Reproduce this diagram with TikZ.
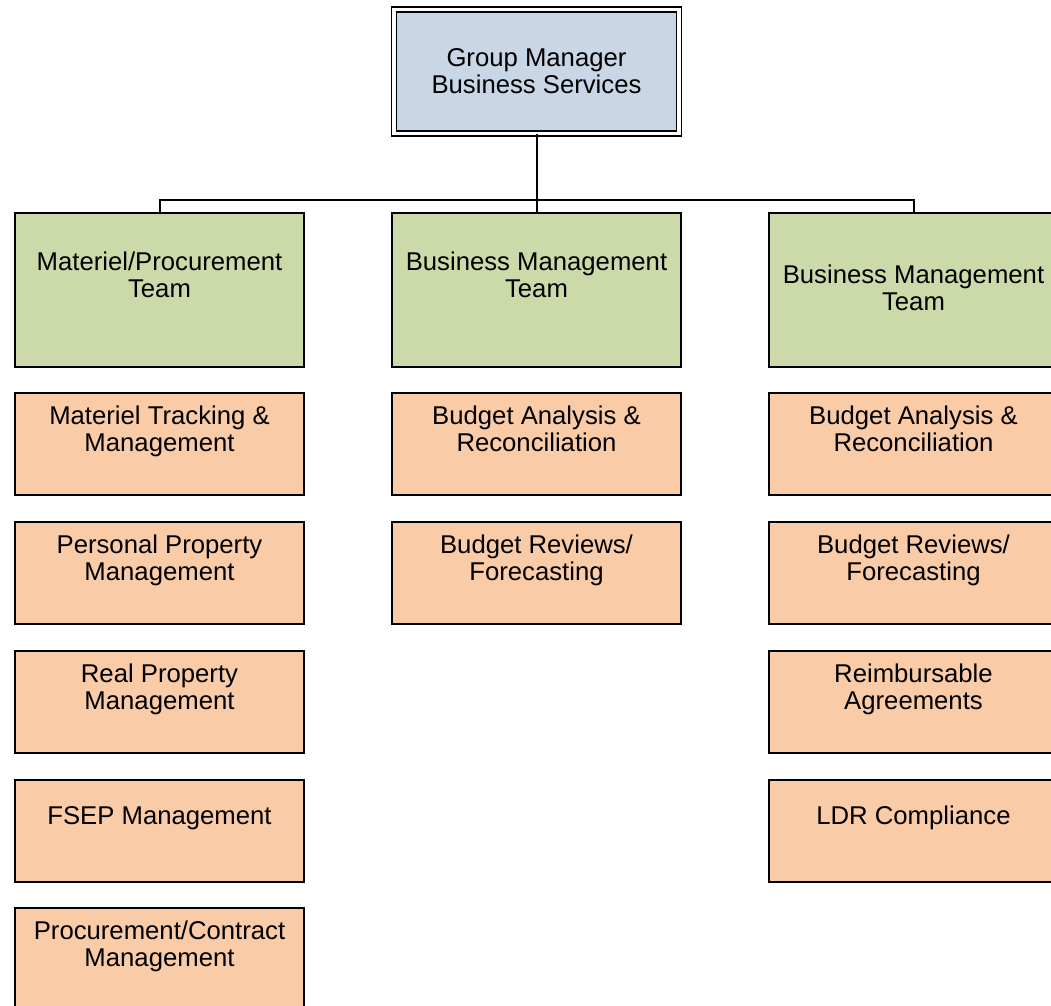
\documentclass[tikz,border=0pt]{standalone}
\usepackage{fontspec}
\setmainfont{Liberation Sans}
\definecolor{headblue}{RGB}{200,214,230}
\definecolor{teamgreen}{RGB}{204,218,170}
\definecolor{taskorange}{RGB}{249,203,167}
\begin{document}
\begin{tikzpicture}[x=0.5pt, y=0.5pt,
		every node/.style={inner sep=0pt, align=center, font=\fontsize{12.85pt}{13.5pt}\selectfont},
		boxtext/.style={execute at begin node=\strut, execute at end node=\strut},
		headbox/.style={draw=black, line width=0.9pt, double=white, double distance=1.6pt, fill=headblue, minimum width=142.5pt, minimum height=62pt},
		teambox/.style={draw=black, line width=1pt, fill=teamgreen, minimum width=144.5pt, minimum height=76.5pt},
		taskbox/.style={draw=black, line width=1pt, fill=taskorange, minimum width=144.5pt, minimum height=51pt},
		wire/.style={draw=black, line width=1pt}]
		\useasboundingbox (0,0) rectangle (1051,-1006);
		% head
		\node [headbox] (gm) at (536.5,-71.5) {Group Manager\\Business Services};
		% teams
		\node [teambox] (mat) at (159.5,-290) {};
		\node [boxtext] (matt) at (159.5,-279) {Materiel/Procurement\\Team};
		\node [teambox] (bma) at (536.5,-290) {};
		\node [boxtext] (bmat) at (536.5,-279) {Business Management\\Team};
		\node [teambox] (bmb) at (913.5,-290) {};
		\node [boxtext] (bmbt) at (913.5,-292) {Business Management\\Team};
		% materiel tasks
		\node [taskbox] (mat1) at (159.5,-443.5) {};
		\node [boxtext] (mat1t) at (159.5,-433) {Materiel Tracking \&\\Management};
		\node [taskbox] (mat2) at (159.5,-572.5) {};
		\node [boxtext] (mat2t) at (159.5,-562) {Personal Property\\Management};
		\node [taskbox] (mat3) at (159.5,-701.5) {};
		\node [boxtext] (mat3t) at (159.5,-691) {Real Property\\Management};
		\node [taskbox] (mat4) at (159.5,-830.5) {};
		\node [boxtext] (mat4t) at (159.5,-819) {FSEP Management};
		\node [taskbox] (mat5) at (159.5,-958.5) {};
		\node [boxtext] (mat5t) at (159.5,-948) {Procurement/Contract\\Management};
		% business management tasks
		\node [taskbox] (bma1) at (536.5,-443.5) {};
		\node [boxtext] (bma1t) at (536.5,-433) {Budget Analysis \&\\Reconciliation};
		\node [taskbox] (bma2) at (536.5,-572.5) {};
		\node [boxtext] (bma2t) at (536.5,-562) {Budget Reviews/\\Forecasting};
		\node [taskbox] (bmb1) at (913.5,-443.5) {};
		\node [boxtext] (bmb1t) at (913.5,-433) {Budget Analysis \&\\Reconciliation};
		\node [taskbox] (bmb2) at (913.5,-572.5) {};
		\node [boxtext] (bmb2t) at (913.5,-562) {Budget Reviews/\\Forecasting};
		\node [taskbox] (bmb3) at (913.5,-701.5) {};
		\node [boxtext] (bmb3t) at (913.5,-691) {Reimbursable\\Agreements};
		\node [taskbox] (bmb4) at (913.5,-830.5) {};
		\node [boxtext] (bmb4t) at (913.5,-819) {LDR Compliance};
		% connectors
		\coordinate (bus) at (536.5,-200);
		\draw [wire] (gm.south) -- (bma.north);
		\draw [wire] (mat.north) |- (bus) -| (bmb.north);
\end{tikzpicture}
\end{document}
